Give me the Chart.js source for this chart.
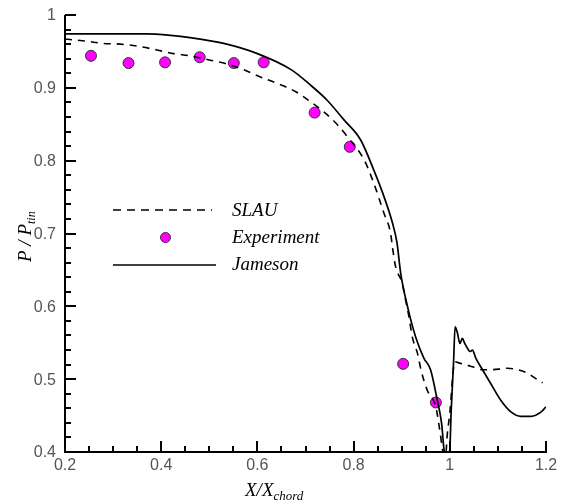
<!DOCTYPE html>
<html>
<head>
<meta charset="utf-8">
<script src="https://cdn.jsdelivr.net/npm/chart.js@4.4.1/dist/chart.umd.min.js"></script>
<style>
  html, body { margin: 0; padding: 0; background: #fff; }
  #wrap { position: relative; width: 561px; height: 503px; }
  #chart, #overlay { position: absolute; left: 0; top: 0; }
  #overlay { pointer-events: none; }
</style>
</head>
<body>
<div id="wrap">
  <canvas id="chart" width="561" height="503"></canvas>
  <canvas id="overlay" width="561" height="503"></canvas>
</div>
<script>
// values
const jamesonX = [0.2, 0.25, 0.3, 0.367, 0.42, 0.46, 0.53, 0.6, 0.67, 0.71, 0.745, 0.78, 0.815, 0.842, 0.863, 0.881, 0.89, 0.898, 0.912, 0.929, 0.946, 0.96, 0.974, 0.983, 0.988, 0.994, 1.0, 1.003, 1.008, 1.011, 1.016, 1.021, 1.026, 1.031, 1.037, 1.042, 1.047, 1.054, 1.068, 1.085, 1.106, 1.127, 1.148, 1.169, 1.19, 1.2];
const jamesonP = [0.974, 0.974, 0.974, 0.974, 0.972, 0.969, 0.961, 0.947, 0.925, 0.904, 0.883, 0.856, 0.828, 0.787, 0.751, 0.714, 0.688, 0.645, 0.600, 0.558, 0.529, 0.513, 0.471, 0.439, 0.403, 0.385, 0.403, 0.458, 0.526, 0.572, 0.563, 0.549, 0.556, 0.549, 0.542, 0.538, 0.540, 0.529, 0.513, 0.494, 0.471, 0.455, 0.449, 0.449, 0.455, 0.462];

const slauX = [0.2, 0.245, 0.28, 0.315, 0.353, 0.391, 0.426, 0.46, 0.502, 0.53, 0.571, 0.606, 0.641, 0.679, 0.71, 0.738, 0.7625, 0.787, 0.822, 0.842, 0.863, 0.877, 0.881, 0.8875, 0.901, 0.908, 0.915, 0.922, 0.933, 0.94, 0.953, 0.971, 0.978, 0.985, 0.99, 0.995, 1.0, 1.006, 1.01, 1.02, 1.037, 1.047, 1.068, 1.082, 1.106, 1.12, 1.141, 1.162, 1.183, 1.193];
const slauP = [0.967, 0.964, 0.961, 0.960, 0.957, 0.952, 0.947, 0.944, 0.938, 0.934, 0.925, 0.915, 0.906, 0.895, 0.881, 0.867, 0.852, 0.833, 0.801, 0.769, 0.728, 0.700, 0.680, 0.654, 0.632, 0.609, 0.586, 0.558, 0.535, 0.513, 0.485, 0.462, 0.435, 0.403, 0.385, 0.426, 0.453, 0.503, 0.524, 0.522, 0.519, 0.517, 0.513, 0.513, 0.514, 0.515, 0.513, 0.508, 0.499, 0.495];

const expX = [0.254, 0.332, 0.408, 0.480, 0.551, 0.613, 0.719, 0.792, 0.903, 0.971];
const expP = [0.944, 0.934, 0.935, 0.942, 0.934, 0.935, 0.866, 0.819, 0.521, 0.468];

const xTicks = [0.2, 0.4, 0.6, 0.8, 1, 1.2];
const xTickLabels = ['0.2', '0.4', '0.6', '0.8', '1', '1.2'];
const yTicks = [0.4, 0.5, 0.6, 0.7, 0.8, 0.9, 1];
const yTickLabels = ['0.4', '0.5', '0.6', '0.7', '0.8', '0.9', '1'];

const legendNames = ['SLAU', 'Experiment', 'Jameson'];

const toPts = (xs, ys) => xs.map((x, i) => ({ x: x, y: ys[i] }));

const MAGENTA = '#ff00ff';
const SERIF = '"Liberation Serif", "DejaVu Serif", serif';
const SANS = '"Liberation Sans", Arial, sans-serif';

// spines and inward ticks: minor every 0.05 on x, every 0.02 on y
function drawAxes(chart, ctx) {
  const xs = chart.scales.x, ys = chart.scales.y;
  const a = chart.chartArea;
  const L = Math.round(a.left), B = Math.round(a.bottom), T = Math.round(a.top), R = Math.round(a.right);
  ctx.save();
  ctx.fillStyle = '#000';
  ctx.fillRect(L - 1, T, 2, B - T + 1);
  ctx.fillRect(L - 1, B - 1, R - L + 2, 2);
  for (let i = 0; i <= 20; i++) {
    const px = Math.round(xs.getPixelForValue(0.2 + i * 0.05));
    const len = i % 4 === 0 ? 11 : 6;
    ctx.fillRect(px - 1, B - len, 2, len);
  }
  for (let i = 0; i <= 30; i++) {
    const py = Math.round(ys.getPixelForValue(0.4 + i * 0.02));
    const len = i % 5 === 0 ? 11 : 6;
    ctx.fillRect(L, py - 1, len, 2);
  }
  ctx.restore();
}

// tick labels, titles and legend
const decor = {
  id: 'decor',
  afterDraw(chart) {
    const ctx = chart.ctx;
    const xs = chart.scales.x, ys = chart.scales.y;
    const a = chart.chartArea;
    drawAxes(chart, ctx);
    ctx.save();
    ctx.fillStyle = '#555';
    ctx.font = '16px ' + SANS;
    ctx.textAlign = 'center';
    ctx.textBaseline = 'middle';
    xTicks.forEach((v, i) => ctx.fillText(xTickLabels[i], xs.getPixelForValue(v), a.bottom + 14));
    ctx.textAlign = 'right';
    yTicks.forEach((v, i) => ctx.fillText(yTickLabels[i], a.left - 9, ys.getPixelForValue(v) + 1));

    ctx.fillStyle = '#000';
    ctx.textAlign = 'left';
    ctx.textBaseline = 'alphabetic';
    let x0 = 245, yb = 496;
    ctx.font = 'italic 19px ' + SERIF;
    ctx.fillText('X/X', x0, yb);
    x0 += ctx.measureText('X/X').width;
    ctx.font = 'italic 13px ' + SERIF;
    ctx.fillText('chord', x0, yb + 4);

    ctx.save();
    ctx.translate(31, 262);
    ctx.rotate(-Math.PI / 2);
    ctx.font = 'italic 19px ' + SERIF;
    ctx.fillText('P / P', 0, 0);
    const w = ctx.measureText('P / P').width;
    ctx.font = 'italic 12px ' + SERIF;
    ctx.fillText('tin', w, 4);
    ctx.restore();

    // legend
    ctx.strokeStyle = '#000';
    ctx.lineWidth = 1.6;
    ctx.setLineDash([8, 6]);
    ctx.beginPath();
    ctx.moveTo(113, 210); ctx.lineTo(212, 210);
    ctx.stroke();
    ctx.setLineDash([]);
    ctx.beginPath();
    ctx.moveTo(113, 265); ctx.lineTo(216, 265);
    ctx.stroke();
    ctx.beginPath();
    ctx.arc(165.5, 237.5, 5, 0, Math.PI * 2);
    ctx.fillStyle = MAGENTA;
    ctx.fill();
    ctx.lineWidth = 1;
    ctx.strokeStyle = '#333';
    ctx.stroke();

    ctx.fillStyle = '#000';
    ctx.font = 'italic 19px ' + SERIF;
    ctx.textBaseline = 'middle';
    ctx.fillText(legendNames[0], 232, 211);
    ctx.fillText(legendNames[1], 232, 238);
    ctx.fillText(legendNames[2], 232, 265);
    ctx.restore();
  }
};

const chart = new Chart(document.getElementById('chart'), {
  type: 'scatter',
  data: {
    datasets: [
      {
        label: legendNames[0],
        data: toPts(slauX, slauP),
        showLine: true,
        borderColor: '#000',
        borderWidth: 1.6,
        borderDash: [7, 6],
        pointRadius: 0,
        cubicInterpolationMode: 'monotone'
      },
      {
        label: legendNames[2],
        data: toPts(jamesonX, jamesonP),
        showLine: true,
        borderColor: '#000',
        borderWidth: 1.7,
        pointRadius: 0,
        cubicInterpolationMode: 'monotone'
      },
      {
        label: legendNames[1],
        data: toPts(expX, expP),
        showLine: false,
        pointRadius: 5.5,
        pointBackgroundColor: MAGENTA,
        pointBorderColor: '#333',
        pointBorderWidth: 1
      }
    ]
  },
  options: {
    responsive: false,
    animation: false,
    layout: { padding: { left: 65, right: 15, top: 15, bottom: 51 } },
    plugins: { legend: { display: false }, tooltip: { enabled: false } },
    scales: {
      x: { type: 'linear', min: 0.2, max: 1.2, display: false },
      y: { type: 'linear', min: 0.4, max: 1.0, display: false }
    }
  },
  plugins: [decor]
});

// the ticks again on a transparent layer above the chart
drawAxes(chart, document.getElementById('overlay').getContext('2d'));
</script>
</body>
</html>
